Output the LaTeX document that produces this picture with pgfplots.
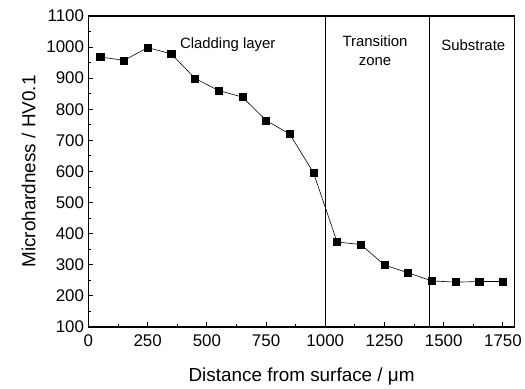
\documentclass[border=0pt]{standalone}
\usepackage{pgfplots}
\pgfplotsset{compat=1.18}
\usepackage{fontspec}
\setmainfont{Liberation Sans}
\begin{document}
\begin{tikzpicture}
\begin{axis}[
  scale only axis,
  width=429bp, height=313bp,
  xmin=0, xmax=1800, ymin=100, ymax=1100,
  xtick={0,250,...,1750},
  ytick={100,200,...,1100},
  minor x tick num=1, minor y tick num=1,
  xtick pos=left, ytick pos=left,
  tick align=inside,
  major tick length=5bp, minor tick length=3bp,
  axis line style={line width=1.3pt},
  every tick/.style={line width=0.9pt, black},
  tick label style={font=\fontsize{17bp}{20bp}\selectfont},
  /pgf/number format/assume math mode=true,
  /pgf/number format/1000 sep={},
  xticklabel style={yshift=-4bp},
  yticklabel style={xshift=-1bp},
  label style={font=\fontsize{19bp}{22bp}\selectfont},
  xlabel={Distance from surface / μm},
  ylabel={Microhardness / HV0.1},
  xlabel style={at={(axis description cs:0.5,0)}, anchor=center, yshift=-50bp},
  ylabel style={yshift=4bp},
  clip=false,
]
\addplot[black, line width=0.6pt, mark=square*, mark size=3.6bp, mark options={solid}] coordinates {
(50,968) (150,957) (250,998) (350,978) (450,899) (550,860) (650,839) (750,764) (850,720) (950,596)
(1050,373) (1150,365) (1250,299) (1350,274) (1450,248) (1550,244) (1650,246) (1750,246)
};
\draw[black, line width=0.6pt] (axis cs:1000,100) -- (axis cs:1000,1100);
\draw[black, line width=0.6pt] (axis cs:1440,100) -- (axis cs:1440,1100);
\node[font=\fontsize{15bp}{18bp}\selectfont] at (axis cs:588,1007) {Cladding layer};
\node[font=\fontsize{15bp}{18bp}\selectfont, align=center] at (axis cs:1210,988) {Transition\\[1.5bp]zone};
\node[font=\fontsize{15bp}{18bp}\selectfont] at (axis cs:1625,1007) {Substrate};
\path (rel axis cs:0,0) ++(-89bp,-60bp) coordinate (bl);
\path (rel axis cs:1,1) ++(7bp,16bp) coordinate (tr);
\path (bl) (tr);
\end{axis}
\end{tikzpicture}
\end{document}
